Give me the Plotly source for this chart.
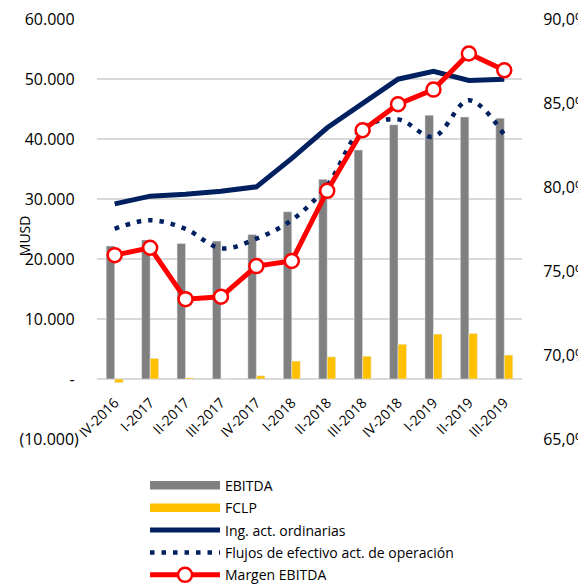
import plotly.graph_objects as go

categories = ["IV-2016", "I-2017", "II-2017", "III-2017", "IV-2017", "I-2018",
              "II-2018", "III-2018", "IV-2018", "I-2019", "II-2019", "III-2019"]
ebitda = [22200, 23200, 22600, 23000, 24100, 27900, 33300, 38200, 42400, 44000, 43700, 43500]
fclp = [-600, 3450, 200, 50, 550, 3000, 3700, 3800, 5800, 7500, 7600, 4000]
ingresos = [29200, 30500, 30800, 31300, 32050, 36800, 41900, 46000, 50000, 51300, 49800, 50000]
flujos = [25050, 26500, 25050, 21800, 23400, 26500, 32300, 41800, 43300, 40400, 46500, 40700]
margen = [75.95, 76.39, 73.33, 73.47, 75.30, 75.60, 79.78, 83.39, 84.94, 85.81, 87.96, 86.96]

left_vals = [-10000, 0, 10000, 20000, 30000, 40000, 50000, 60000]
left_text = ["(10.000)", "-\u00a0", "10.000\u00a0", "20.000\u00a0", "30.000\u00a0",
             "40.000\u00a0", "50.000\u00a0", "60.000\u00a0"]
right_vals = [65, 70, 75, 80, 85, 90]
right_text = ["65,0%", "70,0%", "75,0%", "80,0%", "85,0%", "90,0%"]

FONT = "Open Sans"
GRAY = "#808080"
YELLOW = "#FFC000"
NAVY = "#002060"
RED = "#FF0000"

Y_MIN, Y_MAX = -10000, 60040

fig = go.Figure()
# legend entries for the bars (wide rectangles like the original legend)
fig.add_trace(go.Scatter(x=[None], y=[None], mode="lines", name="EBITDA",
                         line=dict(color=GRAY, width=8.5), legendgroup="a"))
fig.add_trace(go.Scatter(x=[None], y=[None], mode="lines", name="FCLP",
                         line=dict(color=YELLOW, width=8.5), legendgroup="b"))
fig.add_trace(go.Bar(x=categories, y=ebitda, name="EBITDA", marker_color=GRAY,
                     legendgroup="a", showlegend=False))
fig.add_trace(go.Bar(x=categories, y=fclp, name="FCLP", marker_color=YELLOW,
                     legendgroup="b", showlegend=False))
fig.add_trace(go.Scatter(x=categories, y=ingresos, name="Ing. act. ordinarias", mode="lines",
                         line=dict(color=NAVY, width=5), legendgroup="c"))
fig.add_trace(go.Scatter(x=categories, y=flujos, name="Flujos de efectivo act. de operación",
                         mode="lines",
                         line=dict(color=NAVY, width=4.5, dash="4.5px,7px", shape="spline"),
                         legendgroup="d"))
fig.add_trace(go.Scatter(x=categories, y=margen, name="Margen EBITDA", mode="lines+markers",
                         yaxis="y2",
                         line=dict(color=RED, width=5),
                         marker=dict(symbol="circle", size=14, color="white",
                                     line=dict(color=RED, width=2.5)),
                         legendgroup="e"))

fig.update_layout(
    width=578, height=579,
    margin=dict(l=89, r=64, t=11, b=148, autoexpand=False),
    paper_bgcolor="white", plot_bgcolor="white",
    font=dict(family=FONT, color="#000000", size=16),
    barmode="group", bargap=0.52, bargroupgap=0,
    xaxis=dict(type="category", range=[-0.5, len(categories) - 0.5],
               anchor="free", position=(0 - Y_MIN) / (Y_MAX - Y_MIN), showgrid=False,
               showline=False, ticks="outside", ticklen=9, tickcolor="rgba(0,0,0,0)",
               tickangle=-45,
               tickfont=dict(size=14, family=FONT)),
    yaxis=dict(range=[Y_MIN, Y_MAX], tickvals=left_vals, ticktext=left_text,
               showgrid=True, gridcolor="#D9D9D9", gridwidth=1.5,
               zeroline=True, zerolinecolor="#D9D9D9", zerolinewidth=1.5,
               ticks="outside", ticklen=14, tickcolor="rgba(0,0,0,0)",
               ticklabeloverflow="allow",
               tickfont=dict(size=16, family=FONT)),
    yaxis2=dict(range=[65, 90.015], tickvals=right_vals, ticktext=right_text,
                overlaying="y", side="right", showgrid=False, zeroline=False,
                ticks="outside", ticklen=17, tickcolor="rgba(0,0,0,0)",
                ticklabeloverflow="allow",
                tickfont=dict(size=16, family=FONT)),
    legend=dict(x=0.113, y=-0.073, xanchor="left", yanchor="top",
                orientation="v", traceorder="grouped", tracegroupgap=1.2,
                itemwidth=70, font=dict(size=14, family=FONT),
                bgcolor="rgba(0,0,0,0)"),
    showlegend=True,
)

fig.add_annotation(text="MUSD", textangle=-90, xref="paper", yref="paper",
                   x=-0.172, y=0.485, xanchor="center", yanchor="middle",
                   showarrow=False, font=dict(size=14, family=FONT))

fig.write_html("out.html")
